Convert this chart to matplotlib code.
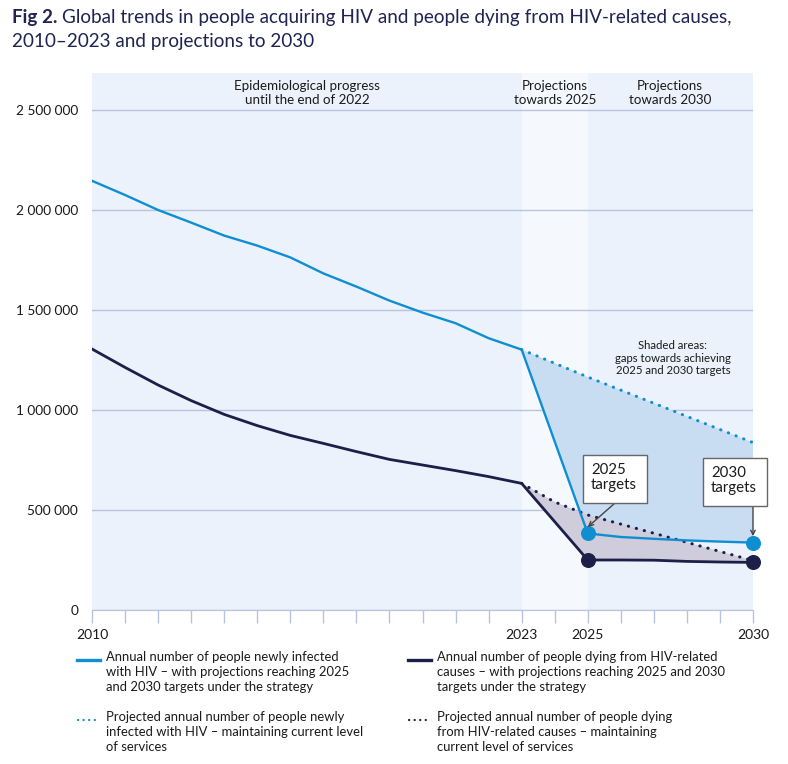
import numpy as np
import matplotlib
matplotlib.use('Agg')
import matplotlib.pyplot as plt
from matplotlib.lines import Line2D
from matplotlib.patches import Rectangle

plt.rcParams['font.family'] = ['Lato', 'DejaVu Sans']

# data
years_hist = list(range(2010, 2024))
new_inf_hist = [2146000, 2075000, 2000000, 1937000, 1872000, 1822000, 1763000,
                1683000, 1617000, 1547000, 1487000, 1434000, 1359000, 1302000]
deaths_hist = [1305000, 1213000, 1125000, 1047000, 978000, 922000, 873000,
               833000, 792000, 753000, 725000, 697000, 667000, 633000]

target_years = [2023, 2025, 2026, 2027, 2028, 2029, 2030]
new_inf_target = [1302000, 383000, 365000, 356000, 348000, 342000, 337000]
deaths_target = [633000, 250000, 250000, 249000, 243000, 240000, 238000]

proj_inf_years = [2023, 2025, 2030]
proj_inf = [1302000, 1165000, 837000]
proj_deaths_years = [2023, 2024, 2025, 2030]
proj_deaths = [633000, 540000, 475000, 247000]

marker_years = [2025, 2030]
labelled_years = [2010, 2023, 2025, 2030]

BLUE = '#0F8ED2'
NAVY = '#1C1F47'
GRID = '#B9C3DD'
TXT = '#1a1a1a'

W, H = 788, 764
fig = plt.figure(figsize=(W / 100, H / 100), dpi=100)


def fx(x):
    return x / W


def fy(y):
    return 1 - y / H


ax = fig.add_axes([fx(92), fy(610), fx(753 - 92), (610 - 73) / H])
ax.set_xlim(2010, 2030)
ax.set_ylim(0, 2685000)
ax.set_facecolor('#EBF2FB')
ax.axvspan(2023, 2025, color='#F5F9FE', zorder=0, lw=0)

ax.set_yticks(range(0, 2500001, 500000))
ax.set_yticklabels([f"{v:,}".replace(',', ' ') for v in range(0, 2500001, 500000)],
                   fontsize=9.8, color=TXT)
ax.yaxis.grid(True, color=GRID, lw=1)
ax.set_axisbelow(True)
ax.tick_params(axis='y', length=0, pad=10)

ax.set_xticks(range(2010, 2031))
ax.set_xticklabels([str(y) if y in labelled_years else '' for y in range(2010, 2031)],
                   fontsize=10, color=TXT)
ax.tick_params(axis='x', length=9, width=1, color=GRID, pad=5)
for s in ['top', 'right', 'left']:
    ax.spines[s].set_visible(False)
ax.spines['bottom'].set_color(GRID)

# shaded gap areas
ax.fill(proj_inf_years + target_years[::-1], proj_inf + new_inf_target[::-1],
        color='#C8DCF2', lw=0, zorder=1)
ax.fill(proj_deaths_years + target_years[::-1], proj_deaths + deaths_target[::-1],
        color='#CFCCDC', lw=0, zorder=1)

# solid lines: history + targets
ax.plot(years_hist + target_years[1:], new_inf_hist + new_inf_target[1:],
        color=BLUE, lw=1.7, zorder=3)
ax.plot(years_hist + target_years[1:], deaths_hist + deaths_target[1:],
        color=NAVY, lw=2.0, zorder=3)

# dotted projections
dots = dict(lw=2.2, linestyle=(0, (0.1, 2.6)), dash_capstyle='round', zorder=2)
ax.plot(proj_inf_years, proj_inf, color=BLUE, **dots)
ax.plot(proj_deaths_years, proj_deaths, color=NAVY, **dots)

# target markers
inf_marks = [new_inf_target[target_years.index(y)] for y in marker_years]
death_marks = [deaths_target[target_years.index(y)] for y in marker_years]
ax.plot(marker_years, inf_marks, 'o', color=BLUE, ms=9.8, zorder=4, clip_on=False)
ax.plot(marker_years, death_marks, 'o', color=NAVY, ms=9.8, zorder=4, clip_on=False)

# target boxes with arrows
for (x0, y0, x1, y1), yr, val in [((583, 455, 647, 503), 2025, inf_marks[0]),
                                  ((703, 458, 767, 506), 2030, inf_marks[1])]:
    fig.add_artist(Rectangle((fx(x0), fy(y1)), fx(x1 - x0), (y1 - y0) / H,
                             transform=fig.transFigure, fc='white', ec='#666666',
                             lw=1, zorder=5))
    fig.text(fx(x0 + 8), fy(y0 + 8), f"{yr}\ntargets", fontsize=10.8, color=TXT,
             ha='left', va='top', linespacing=1.12, zorder=6)
    ax.annotate('', xy=(yr, val + 32000), xycoords='data',
                xytext=(fx((x0 + x1) / 2 if yr == 2025 else 753), fy(y1)),
                textcoords='figure fraction',
                arrowprops=dict(arrowstyle='->', color='#444444', lw=1,
                                shrinkA=0, shrinkB=0, mutation_scale=8),
                annotation_clip=False, zorder=6)

# period labels
fig.text(fx(307), fy(93), "Epidemiological progress\nuntil the end of 2022",
         ha='center', va='center', fontsize=9.6, color=TXT, linespacing=1.2)
fig.text(fx(555), fy(93), "Projections\ntowards 2025",
         ha='center', va='center', fontsize=9.6, color=TXT, linespacing=1.2)
fig.text(fx(670), fy(93), "Projections\ntowards 2030",
         ha='center', va='center', fontsize=9.6, color=TXT, linespacing=1.2)
fig.text(fx(673), fy(358), "Shaded areas:\ngaps towards achieving\n2025 and 2030 targets",
         ha='center', va='center', fontsize=8.2, color=TXT, linespacing=1.22)

# title
TITLE = '#1E2452'
t1 = fig.text(fx(12), fy(18), "Fig 2.", fontsize=13.6, fontweight='bold',
              color=TITLE, va='center', ha='left')
fig.canvas.draw()
bb = t1.get_window_extent()
fig.text(bb.x1 / W + fx(5), fy(18),
         "Global trends in people acquiring HIV and people dying from HIV-related causes,",
         fontsize=13.6, color=TITLE, va='center', ha='left')
fig.text(fx(12), fy(42), "2010\u20132023 and projections to 2030",
         fontsize=13.6, color=TITLE, va='center', ha='left')

# legend
legend_items = [
    (77, 660, 106, BLUE, '-', "Annual number of people newly infected\nwith HIV \u2013 with projections reaching 2025\nand 2030 targets under the strategy"),
    (77, 720, 106, BLUE, ':', "Projected annual number of people newly\ninfected with HIV \u2013 maintaining current level\nof services"),
    (408, 660, 437, NAVY, '-', "Annual number of people dying from HIV-related\ncauses \u2013 with projections reaching 2025 and 2030\ntargets under the strategy"),
    (408, 720, 437, NAVY, ':', "Projected annual number of people dying\nfrom HIV-related causes \u2013 maintaining\ncurrent level of services"),
]
for lx, ly, tx, col, ls, label in legend_items:
    if ls == '-':
        fig.add_artist(Line2D([fx(lx), fx(lx + 23)], [fy(ly), fy(ly)], color=col,
                              lw=2.4, transform=fig.transFigure))
    else:
        fig.add_artist(Line2D([fx(lx + 1), fx(lx + 22)], [fy(ly), fy(ly)], color=col,
                              lw=1.6, linestyle=(0, (0.1, 2.4)), dash_capstyle='round',
                              transform=fig.transFigure))
    fig.text(fx(tx), fy(ly - 9), label, fontsize=9.4, color=TXT, ha='left', va='top',
             linespacing=1.32)

fig.savefig('out.png', dpi=100)
